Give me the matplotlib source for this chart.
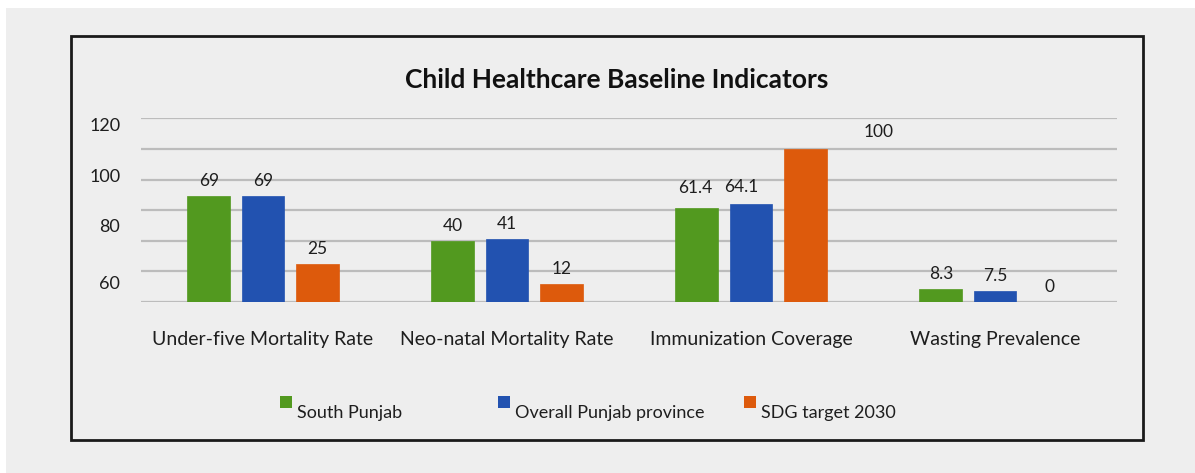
import matplotlib
matplotlib.use("Agg")
import matplotlib.pyplot as plt
from matplotlib.patches import Rectangle
import numpy as np

plt.rcParams['font.family'] = ['Lato', 'DejaVu Sans']

categories = ["Under-five Mortality Rate", "Neo-natal Mortality Rate",
              "Immunization Coverage", "Wasting Prevalence"]
series_names = ["South Punjab", "Overall Punjab province", "SDG target 2030"]
south_punjab = [69, 40, 61.4, 8.3]
overall_punjab = [69, 41, 64.1, 7.5]
sdg_target = [25, 12, 100, 0]
value_labels = [["69", "40", "61.4", "8.3"],
                ["69", "41", "64.1", "7.5"],
                ["25", "12", "100", "0"]]
ytick_labels = ["60", "80", "100", "120"]

colors = ["#52991f", "#2252b0", "#dd5a0c"]
bg = "#eeeeee"

W, H = 1195, 473
fig = plt.figure(figsize=(W / 100, H / 100), dpi=100, facecolor="white")


def fx(px):
    return px / W


def fy(py):
    return 1 - py / H


# grey panel and black frame
fig.patches.append(Rectangle((fx(6), 0), 1 - fx(6), fy(8), transform=fig.transFigure,
                             facecolor=bg, edgecolor="none", zorder=-2))
fig.patches.append(Rectangle((fx(71), fy(440)), fx(1143) - fx(71), fy(36) - fy(440),
                             transform=fig.transFigure, facecolor="none",
                             edgecolor="#1a1a1a", linewidth=2.0, zorder=-1))

ax = fig.add_axes([fx(141), fy(302), fx(1117) - fx(141), fy(118.4) - fy(302)])
ax.set_zorder(5)
ax.patch.set_alpha(0)

x = np.arange(len(categories))
step = 0.222
width = 0.176
all_series = [south_punjab, overall_punjab, sdg_target]
bars = []
for i, (vals, col) in enumerate(zip(all_series, colors)):
    b = ax.bar(x + (i - 1) * step, vals, width=width, color=col, zorder=3,
               edgecolor=col, linewidth=0.5)
    bars.append(b)

ax.set_xlim(-0.5, 3.5)
ax.set_ylim(0, 120)
ax.set_yticks([0, 20, 40, 60, 80, 100, 120], minor=True)
ax.grid(which="minor", axis="y", color="#bcbcbc", linewidth=1.6, zorder=1)
ax.set_yticks([13, 49.7, 83, 115.7])
ax.set_yticklabels(ytick_labels)
ax.tick_params(axis="y", which="both", length=0, pad=15, labelsize=13, labelcolor="#1e1e1e")
ax.set_xticks(x)
ax.set_xticklabels(categories)
ax.tick_params(axis="x", length=0, pad=21, labelsize=14, labelcolor="#1e1e1e")
for s in ax.spines.values():
    s.set_visible(False)

# value labels above bars (pixel offsets for a few crowded labels)
label_nudges = {(0, 2): (-2, 20), (1, 2): (-10, 17), (2, 2): (73, 17)}
for i, b in enumerate(bars):
    for j, rect in enumerate(b):
        dx, dy = label_nudges.get((i, j), (0, 15))
        ax.annotate(value_labels[i][j],
                    (rect.get_x() + rect.get_width() / 2, rect.get_height()),
                    xytext=(dx * 0.72, dy * 0.72), textcoords="offset points",
                    ha="center", va="center", fontsize=12.5, color="#1e1e1e", zorder=4)

fig.text(fx(617), fy(80), "Child Healthcare Baseline Indicators", ha="center",
         va="center", fontsize=19, fontweight="bold", color="#111111")

# legend
legend_sq = [280, 498, 744]
legend_tx = [297, 515, 761]
for name, col, sx, tx in zip(series_names, colors, legend_sq, legend_tx):
    fig.patches.append(Rectangle((fx(sx), fy(408)), fx(12), 12 / H,
                                 transform=fig.transFigure, facecolor=col,
                                 edgecolor="none", zorder=2))
    fig.text(fx(tx), fy(413), name, ha="left", va="center", fontsize=13,
             color="#1e1e1e")

fig.savefig("out.png", dpi=100, facecolor="white")
